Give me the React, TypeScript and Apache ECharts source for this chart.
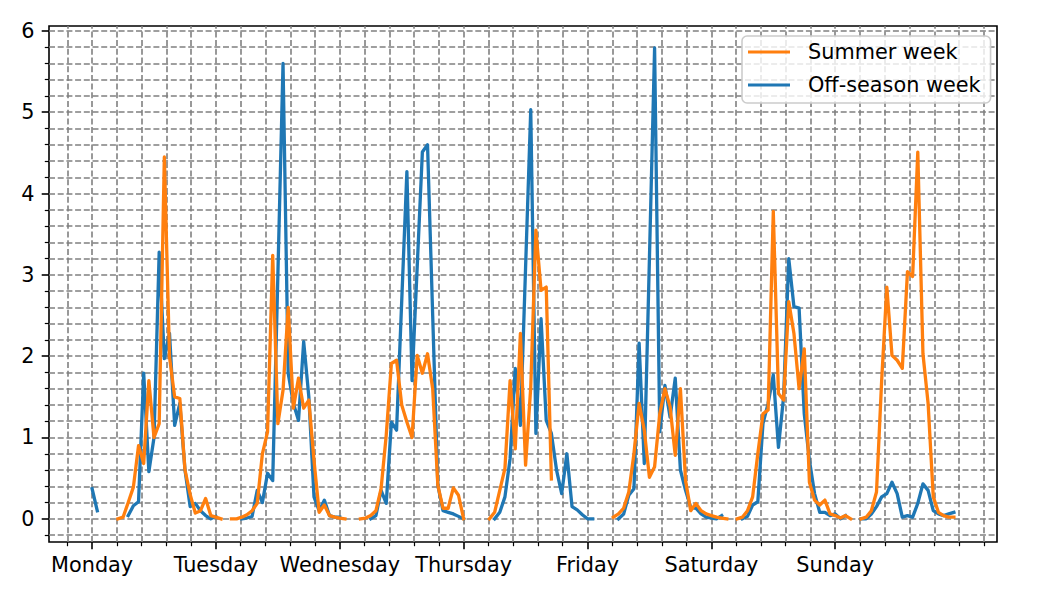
import React, { useEffect, useRef } from 'react';
import * as echarts from 'echarts';

// ---------- data (hourly values, null = no data) ----------
const DAYS = ['Monday', 'Tuesday', 'Wednesday', 'Thursday', 'Friday', 'Saturday', 'Sunday'];
const SERIES_NAMES = ['Summer week', 'Off-season week'];

const SUMMER_WEEK: (number | null)[] = [
  // Monday
  null, null, null, null, null, 0.0, 0.02, 0.2, 0.39, 0.9, 0.68, 1.7, 1.0, 1.17, 4.45, 1.99, 1.5, 1.48, 0.6, 0.3, 0.07, 0.1, 0.25, 0.04,
  // Tuesday
  0.02, 0.0, null, 0.0, 0.0, 0.02, 0.05, 0.1, 0.19, 0.8, 1.07, 3.24, 1.17, 1.58, 2.6, 1.36, 1.73, 1.36, 1.46, 0.72, 0.08, 0.17, 0.04, 0.02,
  // Wednesday
  0.01, 0.0, null, null, 0.0, 0.01, 0.04, 0.1, 0.37, 1.03, 1.91, 1.95, 1.4, 1.19, 1.0, 2.01, 1.79, 2.03, 1.6, 0.41, 0.13, 0.13, 0.38, 0.29,
  // Thursday
  0.0, null, null, null, null, 0.0, 0.08, 0.35, 0.62, 1.7, 0.86, 2.28, 0.66, 1.62, 3.55, 2.81, 2.85, 0.49, null, null, null, null, null, null,
  // Friday
  null, null, null, null, null, 0.02, 0.06, 0.13, 0.33, 0.8, 1.42, 1.09, 0.51, 0.64, 1.29, 1.6, 1.38, 0.78, 1.6, 0.47, 0.1, 0.19, 0.1, 0.06,
  // Saturday
  0.04, 0.02, 0.01, 0.0, null, 0.0, 0.02, 0.1, 0.27, 0.8, 1.29, 1.34, 3.78, 1.54, 1.46, 2.67, 2.28, 1.6, 2.09, 0.45, 0.23, 0.17, 0.23, 0.06,
  // Sunday
  0.04, 0.01, 0.04, 0.0, null, 0.0, 0.02, 0.1, 0.33, 1.7, 2.85, 2.01, 1.95, 1.85, 3.04, 2.98, 4.51, 2.03, 1.42, 0.27, 0.08, 0.04, 0.02, 0.02,
];

const OFFSEASON_WEEK: (number | null)[] = [
  // Monday
  0.37, 0.1, null, null, null, null, null, 0.04, 0.16, 0.21, 1.79, 0.58, 1.0, 3.28, 1.97, 2.28, 1.15, 1.42, 0.6, 0.15, 0.19, 0.1, 0.04, 0.0,
  // Tuesday
  0.03, null, null, null, null, 0.0, 0.01, 0.03, 0.35, 0.2, 0.56, 0.47, 3.0, 5.6, 1.79, 1.42, 1.21, 2.18, 1.5, 0.27, 0.1, 0.23, 0.04, 0.02,
  // Wednesday
  0.02, null, null, null, null, null, 0.0, 0.04, 0.35, 0.19, 1.19, 1.09, 2.68, 4.27, 1.7, 3.1, 4.51, 4.6, 2.5, 0.41, 0.1, 0.08, 0.06, 0.03,
  // Thursday
  0.0, null, null, null, null, null, 0.0, 0.08, 0.27, 0.74, 1.85, 1.15, 3.09, 5.03, 1.05, 2.46, 1.21, 1.05, 0.6, 0.31, 0.8, 0.15, 0.11, 0.05,
  // Friday
  0.0, 0.0, null, null, null, null, 0.0, 0.06, 0.29, 0.37, 2.16, 0.68, 3.2, 5.79, 1.07, 1.64, 1.25, 1.73, 0.6, 0.35, 0.14, 0.13, 0.06, 0.02,
  // Saturday
  0.01, 0.0, 0.04, null, null, null, 0.0, 0.03, 0.17, 0.21, 1.17, 1.42, 1.77, 0.88, 1.5, 3.2, 2.61, 2.59, 1.29, 0.72, 0.31, 0.08, 0.08, 0.04,
  // Sunday
  0.06, 0.0, 0.04, null, null, 0.0, 0.0, 0.06, 0.15, 0.27, 0.31, 0.45, 0.31, 0.02, 0.04, 0.02, 0.19, 0.43, 0.35, 0.1, 0.06, 0.04, 0.06, 0.08,
];

const HOURS = SUMMER_WEEK.map((_, i) => i);

// ---------- axes / ticks ----------
const X_MIN = -8.35;
const X_MAX = 175.35;
const Y_MIN = -0.285;
const Y_MAX = 6.06;

const X_MAJOR_TICKS = [0, 24, 48, 72, 96, 120, 144];
const X_GRID_STEP = 4.8;
const X_GRID: number[] = [];
for (let k = -1; k <= 36; k++) X_GRID.push(Math.round(k * X_GRID_STEP * 100) / 100);
const X_MINOR_TICKS = X_GRID.filter((v) => !X_MAJOR_TICKS.includes(v));

const Y_MAJOR_TICKS = [0, 1, 2, 3, 4, 5, 6];
const Y_GRID: number[] = [];
for (let k = -1; k <= 30; k++) Y_GRID.push(Math.round(k * 0.2 * 100) / 100);
const Y_MINOR_TICKS = Y_GRID.filter((v) => !Y_MAJOR_TICKS.includes(v));

const FONT = 'DejaVu Sans';
const FONT_SIZE = 20.8;
const BLUE = '#1f77b4';
const ORANGE = '#ff7f0e';

export default function App() {
  const ref = useRef<HTMLDivElement>(null);

  useEffect(() => {
    if (!ref.current) return;
    const chart = echarts.init(ref.current, null, { renderer: 'svg' });

    const majorTickStyle = { color: '#000', width: 1.6 };
    const minorTickStyle = { color: '#000', width: 1.2 };
    const gridLineStyle = { color: '#808080', width: 1.6, type: [6, 2.7] as number[] };

    const option: any = {
      animation: false,
      backgroundColor: '#ffffff',
      grid: {
        left: 49,
        top: 26,
        width: 948,
        height: 516,
        show: true,
        borderColor: '#000',
        borderWidth: 1.6,
        backgroundColor: 'transparent',
      },
      legend: {
        data: SERIES_NAMES,
        orient: 'vertical',
        left: 742,
        top: 36,
        icon: 'rect',
        itemWidth: 42,
        itemHeight: 3,
        itemGap: 11,
        padding: [5, 10, 7, 6],
        backgroundColor: 'rgba(255,255,255,0.8)',
        borderColor: '#cccccc',
        borderWidth: 1.6,
        borderRadius: 5,
        selectedMode: false,
        itemStyle: { borderWidth: 0 },
        textStyle: {
          fontFamily: FONT,
          fontSize: FONT_SIZE,
          color: '#000',
          lineHeight: 22,
          padding: [0, 0, 0, 13],
        },
        z: 6,
      },
      xAxis: [
        {
          type: 'value',
          min: X_MIN,
          max: X_MAX,
          position: 'bottom',
          axisLine: { show: false, onZero: false },
          splitLine: { show: false },
          axisTick: { show: true, customValues: X_MAJOR_TICKS, length: 7.3, lineStyle: majorTickStyle },
          axisLabel: {
            show: true,
            customValues: X_MAJOR_TICKS,
            formatter: (v: number) => DAYS[Math.round(v / 24)] ?? '',
            margin: 12.6,
            fontFamily: FONT,
            fontSize: FONT_SIZE,
            color: '#000',
          },
        },
        {
          type: 'value',
          min: X_MIN,
          max: X_MAX,
          position: 'bottom',
          axisLine: { show: false, onZero: false },
          splitLine: { show: false },
          axisTick: { show: true, customValues: X_MINOR_TICKS, length: 4.2, lineStyle: minorTickStyle },
          axisLabel: { show: false },
        },
      ],
      yAxis: [
        {
          type: 'value',
          min: Y_MIN,
          max: Y_MAX,
          position: 'left',
          axisLine: { show: false, onZero: false },
          splitLine: { show: false },
          axisTick: { show: true, customValues: Y_MAJOR_TICKS, length: 7.3, lineStyle: majorTickStyle },
          axisLabel: {
            show: true,
            customValues: Y_MAJOR_TICKS,
            formatter: (v: number) => String(Math.round(v)),
            margin: 14.6,
            fontFamily: FONT,
            fontSize: FONT_SIZE,
            color: '#000',
          },
        },
        {
          type: 'value',
          min: Y_MIN,
          max: Y_MAX,
          position: 'left',
          axisLine: { show: false, onZero: false },
          splitLine: { show: false },
          axisTick: { show: true, customValues: Y_MINOR_TICKS, length: 4.2, lineStyle: minorTickStyle },
          axisLabel: { show: false },
        },
      ],
      series: [
        {
          name: SERIES_NAMES[1],
          type: 'line',
          xAxisIndex: 0,
          yAxisIndex: 0,
          data: OFFSEASON_WEEK.map((v, i) => [HOURS[i], v]),
          showSymbol: false,
          symbol: 'none',
          connectNulls: false,
          color: BLUE,
          lineStyle: { color: BLUE, width: 3.3, join: 'round', cap: 'square' },
          z: 3,
          silent: true,
          markLine: {
            silent: true,
            symbol: ['none', 'none'],
            label: { show: false },
            emphasis: { disabled: true },
            lineStyle: gridLineStyle,
            z: 1,
            animation: false,
            data: [
              ...X_GRID.map((v) => ({ xAxis: v })),
              ...Y_GRID.map((v) => ({ yAxis: v })),
            ],
          },
        },
        {
          name: SERIES_NAMES[0],
          type: 'line',
          xAxisIndex: 0,
          yAxisIndex: 0,
          data: SUMMER_WEEK.map((v, i) => [HOURS[i], v]),
          showSymbol: false,
          symbol: 'none',
          connectNulls: false,
          color: ORANGE,
          lineStyle: { color: ORANGE, width: 3.3, join: 'round', cap: 'square' },
          z: 3,
          silent: true,
        },
      ],
    };

    chart.setOption(option);
    return () => chart.dispose();
  }, []);

  return (
    <div
      ref={ref}
      style={{ position: 'fixed', left: 0, top: 0, width: 1050, height: 600, background: '#fff' }}
    />
  );
}
